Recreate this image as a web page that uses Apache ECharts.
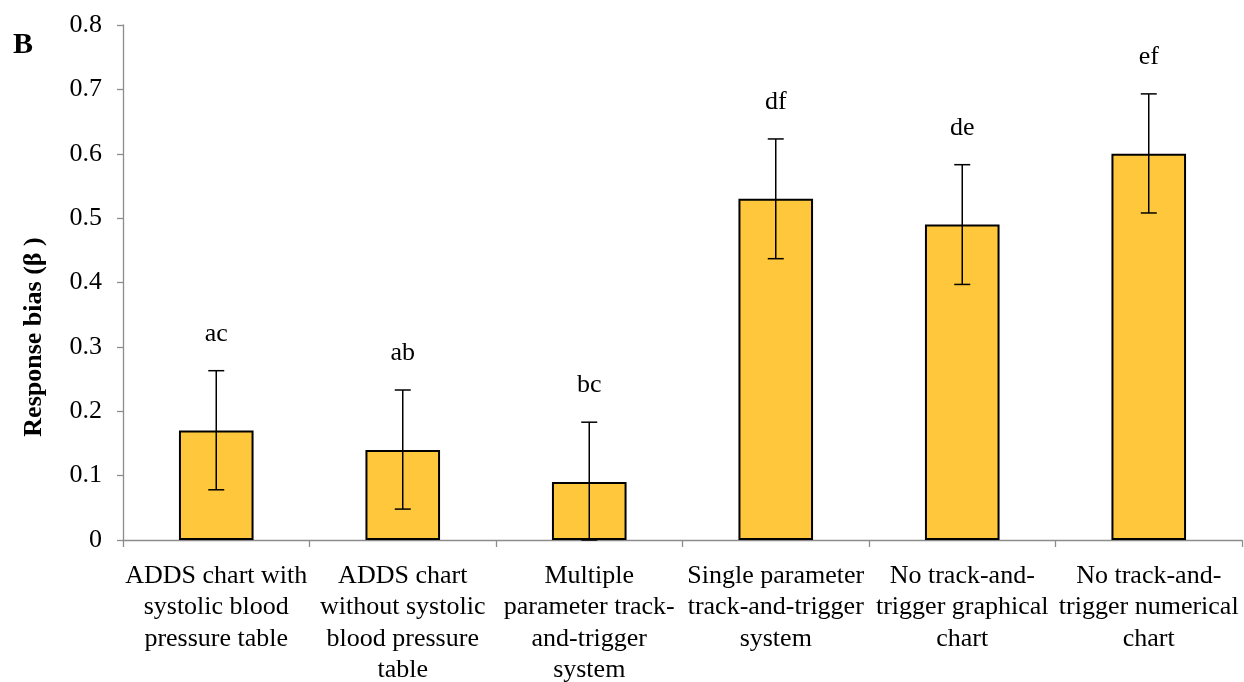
<!DOCTYPE html>
<html>
<head>
<meta charset="utf-8">
<script src="https://cdn.jsdelivr.net/npm/echarts@6/dist/echarts.min.js"></script>
<style>
  html, body { margin: 0; padding: 0; background: #ffffff; }
  #chart { width: 1244px; height: 682px; }
</style>
</head>
<body>
<div id="chart"></div>
<script>
// Conditions on the x axis (line breaks as printed under each bar)
const categories = [
  'ADDS chart with\nsystolic blood\npressure table',
  'ADDS chart\nwithout systolic\nblood pressure\ntable',
  'Multiple\nparameter track-\nand-trigger\nsystem',
  'Single parameter\ntrack-and-trigger\nsystem',
  'No track-and-\ntrigger graphical\nchart',
  'No track-and-\ntrigger numerical\nchart'
];
// Mean response bias (beta) per condition
const meanBias = [0.17, 0.14, 0.09, 0.53, 0.49, 0.60];
// Lower and upper ends of the error bars
const errorLow = [0.078, 0.048, 0.0, 0.437, 0.397, 0.508];
const errorHigh = [0.263, 0.233, 0.183, 0.623, 0.583, 0.693];
// Significance grouping letters shown above each bar
const groupLetters = ['ac', 'ab', 'bc', 'df', 'de', 'ef'];
// Y axis ticks
const yMin = 0, yMax = 0.8, yStep = 0.1;

const FONT = '"Liberation Serif", "Times New Roman", serif';
const chart = echarts.init(document.getElementById('chart'), null, { renderer: 'canvas' });

const errorData = categories.map((c, i) => [i, errorLow[i], errorHigh[i], groupLetters[i]]);

chart.setOption({
  animation: false,
  backgroundColor: '#ffffff',
  textStyle: { fontFamily: FONT },
  grid: { left: 123, right: 2, top: 25, bottom: 142, containLabel: false, outerBoundsMode: 'none' },
  graphic: [
    {
      type: 'text', x: 13, y: 45,
      style: { text: 'B', font: 'bold 30px ' + FONT, fill: '#000', align: 'left', verticalAlign: 'middle' }
    },
    {
      type: 'text', x: 34, y: 337, rotation: Math.PI / 2,
      style: { text: 'Response bias (β )', font: 'bold 26px ' + FONT, fill: '#000', align: 'center', verticalAlign: 'middle' }
    }
  ],
  xAxis: {
    type: 'category',
    data: categories,
    axisLine: { lineStyle: { color: '#8c8c8c', width: 1.3 } },
    axisTick: { show: true, alignWithLabel: false, length: 7, lineStyle: { color: '#8c8c8c', width: 1.3 } },
    axisLabel: { color: '#000', fontSize: 26, fontFamily: FONT, lineHeight: 31.5, margin: 20, interval: 0 }
  },
  yAxis: {
    type: 'value',
    min: yMin, max: yMax, interval: yStep,
    axisLine: { show: true, lineStyle: { color: '#8c8c8c', width: 1.3 } },
    axisTick: { show: true, length: 6, lineStyle: { color: '#8c8c8c', width: 1.3 } },
    splitLine: { show: false },
    axisLabel: {
      color: '#000', fontSize: 26, fontFamily: FONT, margin: 21,
      formatter: v => (v === 0 ? '0' : v.toFixed(1))
    }
  },
  series: [
    {
      type: 'bar',
      data: meanBias,
      barWidth: '40%',
      itemStyle: { color: '#FFC83C', borderColor: '#000', borderWidth: 2 }
    },
    {
      type: 'custom',
      data: errorData,
      encode: { x: 0, y: [1, 2] },
      z: 10,
      renderItem: function (params, api) {
        const i = api.value(0);
        const lo = api.coord([i, api.value(1)]);
        const hi = api.coord([i, api.value(2)]);
        const cap = 8;
        const style = { stroke: '#000', lineWidth: 1.5 };
        return {
          type: 'group',
          children: [
            { type: 'line', shape: { x1: hi[0], y1: hi[1], x2: lo[0], y2: lo[1] }, style: style },
            { type: 'line', shape: { x1: hi[0] - cap, y1: hi[1], x2: hi[0] + cap, y2: hi[1] }, style: style },
            { type: 'line', shape: { x1: lo[0] - cap, y1: lo[1], x2: lo[0] + cap, y2: lo[1] }, style: style },
            {
              type: 'text',
              style: {
                text: groupLetters[params.dataIndex],
                x: hi[0], y: hi[1] - 37,
                align: 'center', verticalAlign: 'middle',
                font: '26px ' + FONT, fill: '#000'
              }
            }
          ]
        };
      }
    }
  ]
});
</script>
</body>
</html>
